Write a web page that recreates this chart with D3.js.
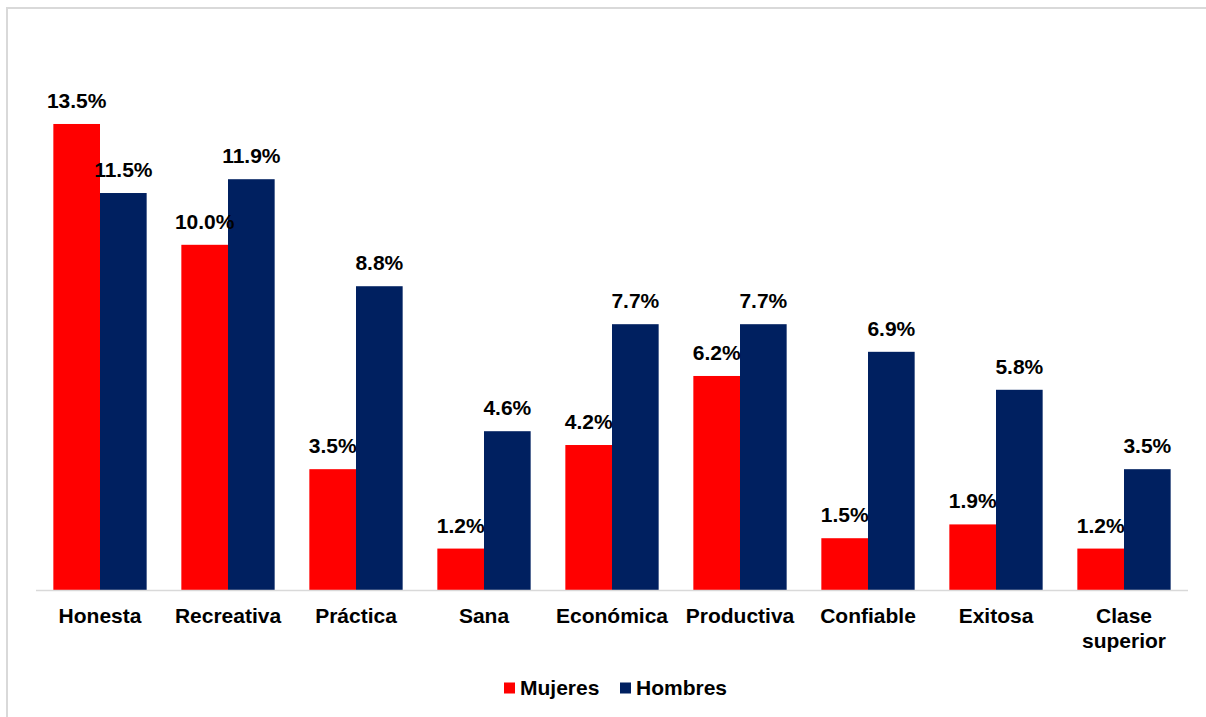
<!DOCTYPE html>
<html>
<head>
<meta charset="utf-8">
<script src="https://cdn.jsdelivr.net/npm/d3@7"></script>
<style>
  html, body { margin: 0; padding: 0; background: #fff; }
  svg { display: block; font-family: "Liberation Sans", Arial, sans-serif; }
</style>
</head>
<body>
<svg id="chart" width="1206" height="717"></svg>
<script>
// Attribute categories and percentages by gender
const categories = ["Honesta", "Recreativa", "Práctica", "Sana", "Económica", "Productiva", "Confiable", "Exitosa", "Clase superior"];
const mujeres = [13.5, 10.0, 3.5, 1.2, 4.2, 6.2, 1.5, 1.9, 1.2];
const hombres = [11.5, 11.9, 8.8, 4.6, 7.7, 7.7, 6.9, 5.8, 3.5];
const seriesNames = ["Mujeres", "Hombres"];
const seriesColors = ["#ff0000", "#002060"];

const FONT_SIZE = 21;
const svg = d3.select("#chart");

// Outer frame (runs off the right and bottom edges)
svg.append("rect")
  .attr("x", 7).attr("y", 8)
  .attr("width", 1240).attr("height", 740)
  .attr("fill", "none")
  .attr("stroke", "#d9d9d9")
  .attr("stroke-width", 2);

const plot = { left: 36, right: 1188, top: 60, bottom: 590 };

const x0 = d3.scaleBand()
  .domain(categories)
  .range([plot.left, plot.right])
  .paddingInner(0.271)
  .paddingOuter(0.1355);

const x1 = d3.scaleBand()
  .domain(seriesNames)
  .range([0, x0.bandwidth()]);

const y = d3.scaleLinear()
  .domain([0, 15.35])
  .range([plot.bottom, plot.bottom - 15.35 * 34.52]);

const rows = categories.map((c, i) => ({ cat: c, values: [mujeres[i], hombres[i]] }));

const groups = svg.append("g").selectAll("g")
  .data(rows)
  .join("g")
  .attr("transform", d => `translate(${x0(d.cat)},0)`);

groups.selectAll("rect")
  .data(d => d.values.map((v, j) => ({ v, s: seriesNames[j], c: seriesColors[j] })))
  .join("rect")
  .attr("x", d => x1(d.s))
  .attr("y", d => y(d.v))
  .attr("width", x1.bandwidth())
  .attr("height", d => y(0) - y(d.v))
  .attr("fill", d => d.c);

// Value labels above bars
groups.selectAll("text.val")
  .data(d => d.values.map((v, j) => ({ v, s: seriesNames[j] })))
  .join("text")
  .attr("class", "val")
  .attr("x", d => x1(d.s) + x1.bandwidth() / 2)
  .attr("y", d => y(d.v) - 16)
  .attr("text-anchor", "middle")
  .attr("font-size", FONT_SIZE)
  .attr("font-weight", "bold")
  .attr("fill", "#000")
  .text(d => d.v.toFixed(1) + "%");

// Category axis
const xAxis = d3.axisBottom(x0).tickSize(0).tickPadding(0);
const axisG = svg.append("g")
  .attr("transform", `translate(0,${plot.bottom})`)
  .call(xAxis);
axisG.select(".domain")
  .attr("d", `M${plot.left},0.5H${plot.right}`)
  .attr("stroke", "#d9d9d9")
  .attr("stroke-width", 1.5);
axisG.selectAll(".tick text").remove();
axisG.selectAll(".tick").each(function(d) {
  const words = d.split(" ");
  const t = d3.select(this).append("text")
    .attr("text-anchor", "middle")
    .attr("font-size", FONT_SIZE)
    .attr("font-weight", "bold")
    .attr("fill", "#000")
    .attr("font-family", "'Liberation Sans', Arial, sans-serif");
  words.forEach((w, k) => {
    t.append("tspan").attr("x", 0).attr("y", 33 + k * 24.5).text(w);
  });
});

// Legend
const legend = svg.append("g");
const legendItems = [
  { name: seriesNames[0], color: seriesColors[0], x: 504 },
  { name: seriesNames[1], color: seriesColors[1], x: 620 }
];
legendItems.forEach(it => {
  legend.append("rect")
    .attr("x", it.x).attr("y", 682.5)
    .attr("width", 11).attr("height", 11)
    .attr("fill", it.color);
  legend.append("text")
    .attr("x", it.x + 16).attr("y", 695)
    .attr("font-size", FONT_SIZE)
    .attr("font-weight", "bold")
    .attr("fill", "#000")
    .text(it.name);
});
</script>
</body>
</html>
